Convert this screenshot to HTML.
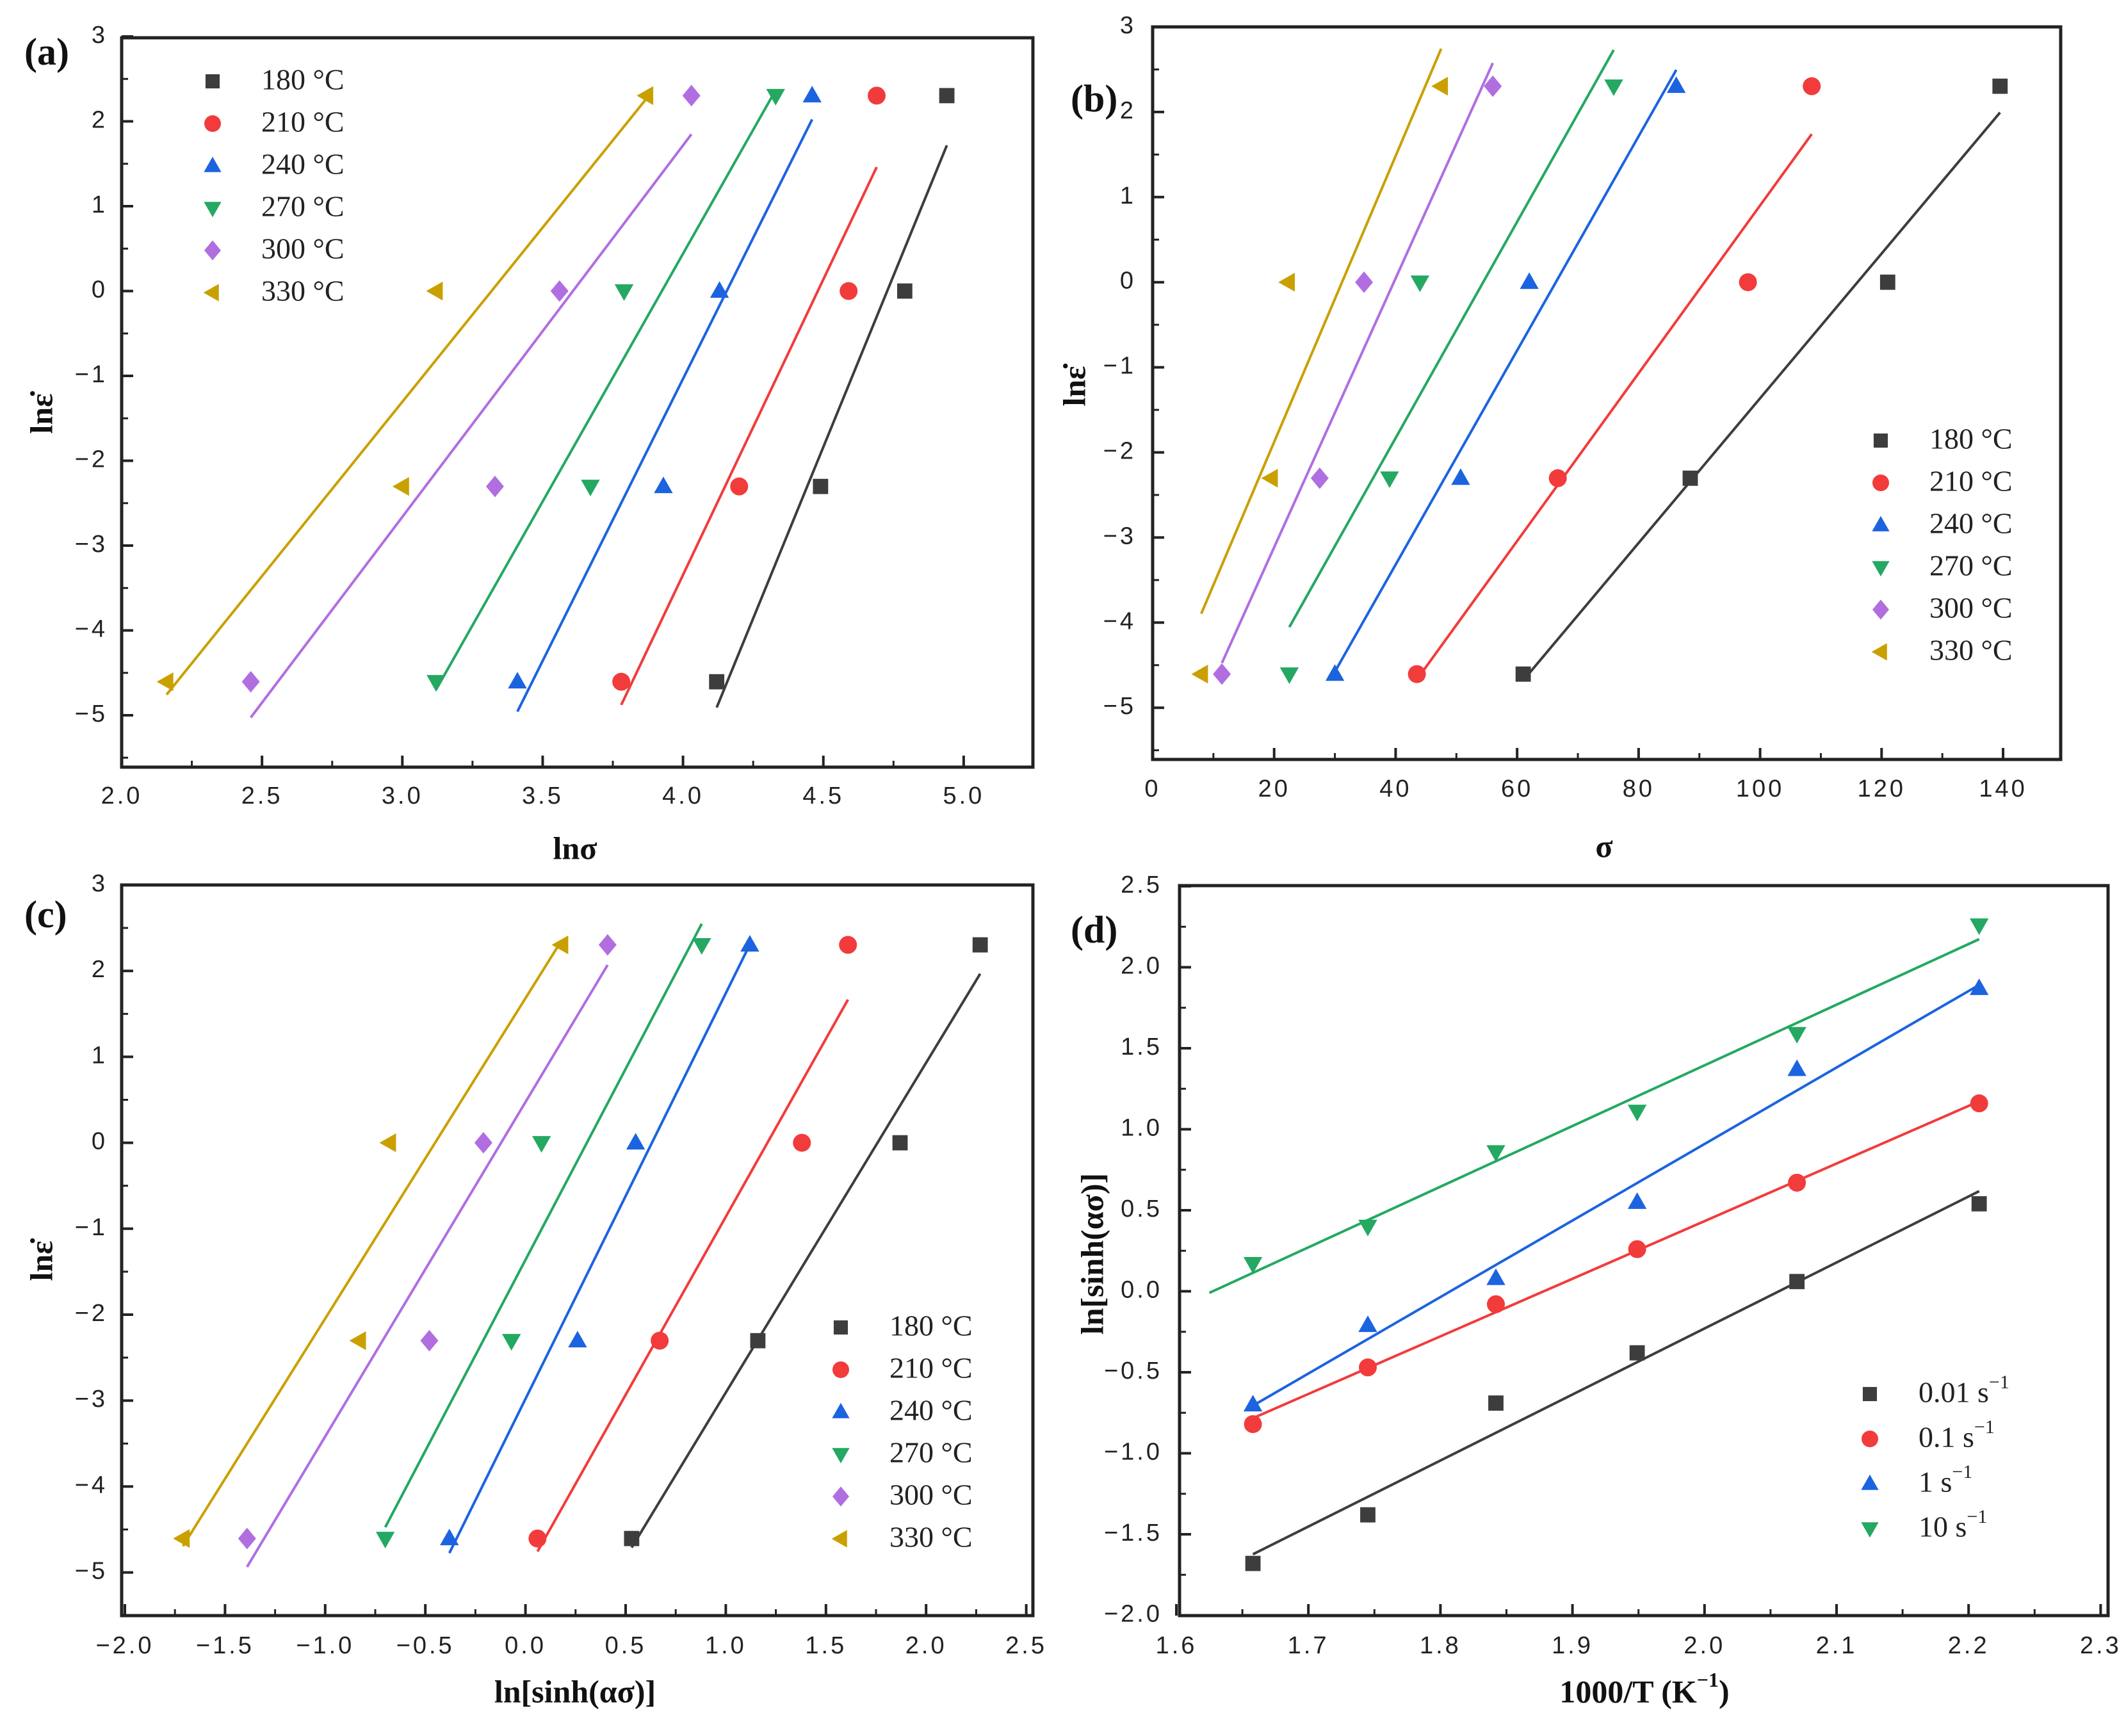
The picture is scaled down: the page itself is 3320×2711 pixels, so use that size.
<!DOCTYPE html>
<html><head><meta charset="utf-8"><style>
html,body{margin:0;padding:0;background:#fff;}
svg{display:block;}
.tk{font-family:"Liberation Sans",sans-serif;font-size:38px;fill:#222;letter-spacing:4px;}
.lg{font-family:"Liberation Serif",serif;font-size:46px;fill:#222;}
.ax{font-family:"Liberation Serif",serif;font-size:50px;font-weight:bold;fill:#111;}
.pl{font-family:"Liberation Serif",serif;font-size:60px;font-weight:bold;fill:#111;}
</style></head><body>
<svg id="fig" width="3320" height="2711" viewBox="0 0 3320 2711" xmlns="http://www.w3.org/2000/svg"></svg>
<script>
// ---------- data ----------
const strainY = [-4.605, -2.303, 0, 2.303];
const tempLabels = ["180 °C","210 °C","240 °C","270 °C","300 °C","330 °C"];
const lnSigma = [
 [4.12,4.49,4.79,4.94],
 [3.78,4.20,4.59,4.69],
 [3.41,3.93,4.13,4.46],
 [3.12,3.67,3.79,4.33],
 [2.46,3.33,3.56,4.03],
 [2.16,3.00,3.12,3.87]];
const sigma = [
 [61,88.5,121,139.5],
 [43.5,66.7,98,108.5],
 [30,50.7,62,86.2],
 [22.5,39,44,75.9],
 [11.4,27.5,34.8,56],
 [8,19.5,22.3,47.5]];
const lnSinh = [
 [0.53,1.16,1.87,2.27],
 [0.06,0.67,1.38,1.61],
 [-0.38,0.26,0.55,1.12],
 [-0.70,-0.07,0.08,0.88],
 [-1.39,-0.48,-0.21,0.41],
 [-1.71,-0.83,-0.68,0.18]];
const invT = [1.658,1.745,1.842,1.949,2.070,2.208];
const rateLabels = ["0.01 s","0.1 s","1 s","10 s"];
const lnSinhD = [
 [-1.68,-1.38,-0.69,-0.38,0.06,0.54],
 [-0.82,-0.47,-0.08,0.26,0.67,1.16],
 [-0.70,-0.21,0.08,0.55,1.37,1.87],
 [0.17,0.40,0.86,1.11,1.59,2.26]];
const fitStartD = [null,null,null,1.625];
const ticksA_x = ["2.0","2.5","3.0","3.5","4.0","4.5","5.0"];
const ticksStrain = ["3","2","1","0","−1","−2","−3","−4","−5"];
const ticksB_x = ["0","20","40","60","80","100","120","140"];
const ticksC_x = ["−2.0","−1.5","−1.0","−0.5","0.0","0.5","1.0","1.5","2.0","2.5"];
const ticksD_x = ["1.6","1.7","1.8","1.9","2.0","2.1","2.2","2.3"];
const ticksD_y = ["2.5","2.0","1.5","1.0","0.5","0.0","−0.5","−1.0","−1.5","−2.0"];

const colors = ["#3d3d3d","#f23b3b","#1c63e0","#24a862","#b06ee0","#c9a000"];
const colorsD = ["#3d3d3d","#f23b3b","#1c63e0","#24a862"];
const shapes = ["sq","ci","tu","td","di","tl"];
const svg = document.getElementById('fig');
const NS = "http://www.w3.org/2000/svg";
function mk(tag, at, parent){const e=document.createElementNS(NS,tag);for(const k in at)e.setAttribute(k,at[k]);(parent||svg).appendChild(e);return e;}
function num(s){return parseFloat(s.replace('−','-'));}

function marker(g, shape, x, y, c, r){
  let e;
  if(shape==="sq") e=mk('rect',{x:x-r*0.85,y:y-r*0.85,width:r*1.7,height:r*1.7,fill:c},g);
  else if(shape==="ci") e=mk('circle',{cx:x,cy:y,r:r,fill:c},g);
  else {
    let p;
    if(shape==="tu") p=[[x,y-r*1.1],[x+r*1.05,y+r*0.75],[x-r*1.05,y+r*0.75]];
    if(shape==="td") p=[[x,y+r*1.1],[x+r*1.05,y-r*0.75],[x-r*1.05,y-r*0.75]];
    if(shape==="tl") p=[[x-r*1.1,y],[x+r*0.75,y-r*1.05],[x+r*0.75,y+r*1.05]];
    if(shape==="di") p=[[x,y-r*1.2],[x+r*1.0,y],[x,y+r*1.2],[x-r*1.0,y]];
    e=mk('polygon',{points:p.map(q=>q.join(',')).join(' '),fill:c},g);
  }
  return e;
}
function fit(xs, ys){
  const n=xs.length;let mx=0,my=0;for(let i=0;i<n;i++){mx+=xs[i];my+=ys[i];}mx/=n;my/=n;
  let sxy=0,sxx=0;for(let i=0;i<n;i++){sxy+=(xs[i]-mx)*(ys[i]-my);sxx+=(xs[i]-mx)**2;}
  const b=sxy/sxx;return [b,my-b*mx];
}

function panel(o){
  const g=mk('g',{});
  
  
  const X=v=>o.x0px+(v-o.x0)*o.xu, Y=v=>o.y0px-(v-o.y0)*o.yu;
  const fr=mk('rect',{x:o.L,y:o.T,width:o.R-o.L,height:o.B-o.T,fill:'none',stroke:'#222','stroke-width':5},g);
  
  
  o.xt.forEach((t,i)=>{
    const v=num(t),px=X(v);
    mk('line',{x1:px,y1:o.B,x2:px,y2:o.B-18,stroke:'#222','stroke-width':4},g);
    const tx=mk('text',{x:px,y:o.xlabY,'text-anchor':'middle','dominant-baseline':'middle',class:'tk'},g);
    tx.textContent=t;
    
    
  });
  for(let v=num(o.xt[0]);v<=o.xmax+1e-9;v+=o.xminor){const px=X(v);if(px>o.L+2&&px<o.R-2)mk('line',{x1:px,y1:o.B,x2:px,y2:o.B-10,stroke:'#222','stroke-width':3},g);}
  o.yt.forEach(t=>{
    const v=num(t),py=Y(v);
    mk('line',{x1:o.L,y1:py,x2:o.L+18,y2:py,stroke:'#222','stroke-width':4},g);
    const tx=mk('text',{x:o.ylabX,y:py,'text-anchor':'end','dominant-baseline':'middle',class:'tk'},g);
    tx.textContent=t;
    
    
  });
  for(let v=o.ymin;v<=o.ymax+1e-9;v+=o.yminor){const py=Y(v);if(py>o.T+2&&py<o.B-2)mk('line',{x1:o.L,y1:py,x2:o.L+10,y2:py,stroke:'#222','stroke-width':3},g);}
  o.xs.forEach((xs,si)=>{
    const ys=o.ysOf(si);
    const [b,a]=fit(xs,ys);
    const x1=(o.starts&&o.starts[si]!=null)?o.starts[si]:Math.min(...xs), x2=Math.max(...xs);
    const ln=mk('line',{x1:X(x1),y1:Y(a+b*x1),x2:X(x2),y2:Y(a+b*x2),stroke:o.cols[si],'stroke-width':4},g);
    
    
    xs.forEach((xv,i)=>{
      const m=marker(g,o.shp[si],X(xv),Y(ys[i]),o.cols[si],14);
      
      
    });
  });
  const lg=mk('g',{},g);
  
  
  o.leg.forEach((t,i)=>{
    const y=o.legY+i*o.legDy;
    marker(lg,o.shp[i],o.legX,y,o.cols[i],13);
    const tx=mk('text',{x:o.legX+76,y:y+2,'dominant-baseline':'middle',class:'lg'},lg);
    
    
    if(o.sup){tx.textContent=t;const s=mk('tspan',{dy:-18,'font-size':30},tx);s.textContent='−1';}
    else tx.textContent=t;
  });
  const xt=mk('text',{x:o.xtitle[0],y:o.xtitle[1],'text-anchor':'middle','dominant-baseline':'middle',class:'ax'},g);
  
  
  if(o.xsup){xt.textContent='1000/T (K';const s=mk('tspan',{dy:-20,'font-size':32},xt);s.textContent='−1';const s2=mk('tspan',{dy:20},xt);s2.textContent=')';}
  else xt.textContent=o.xtitleText;
  const yt=mk('text',{x:0,y:0,'text-anchor':'middle','dominant-baseline':'middle',class:'ax',transform:`translate(${o.ytitle[0]},${o.ytitle[1]}) rotate(-90)`},g);
  
  
  yt.textContent=o.ytitleText;
  const pl=mk('text',{x:o.plab[0],y:o.plab[1],'dominant-baseline':'middle',class:'pl'},g);
  
  
  pl.textContent=o.plabText;
}
const strainOf=()=>strainY;
panel({name:'panel-a',L:190,R:1613,T:59,B:1198,x0:2,x0px:190,xu:438.3,y0:3,y0px:57,yu:132.5,
  xt:ticksA_x,xmax:5.25,xminor:0.25,yt:ticksStrain,ymin:-5.5,ymax:3,yminor:0.5,xlabY:1245,ylabX:168,
  xs:lnSigma,ysOf:strainOf,cols:colors,shp:shapes,leg:tempLabels,legX:332,legY:127,legDy:66,
  xtitle:[898,1330],xtitleText:'lnσ',ytitle:[70,646],ytitleText:'lnε̇',plab:[38,87],plabText:'(a)'});
panel({name:'panel-b',L:1800,R:3218,T:42,B:1186,x0:0,x0px:1800,xu:9.486,y0:3,y0px:42,yu:132.9,
  xt:ticksB_x,xmax:149,xminor:10,yt:ticksStrain,ymin:-5.5,ymax:3,yminor:0.5,xlabY:1234,ylabX:1774,
  xs:sigma,ysOf:strainOf,cols:colors,shp:shapes,leg:tempLabels,legX:2937,legY:688,legDy:66,
  xtitle:[2505,1327],xtitleText:'σ',ytitle:[1683,603],ytitleText:'lnε̇',plab:[1672,160],plabText:'(b)'});
panel({name:'panel-c',L:190,R:1613,T:1382,B:2523,x0:-2,x0px:195,xu:312.8,y0:3,y0px:1382,yu:134.2,
  xt:ticksC_x,xmax:2.55,xminor:0.25,yt:ticksStrain,ymin:-5.5,ymax:3,yminor:0.5,xlabY:2572,ylabX:168,
  xs:lnSinh,ysOf:strainOf,cols:colors,shp:shapes,leg:tempLabels,legX:1313,legY:2073,legDy:66,
  xtitle:[898,2647],xtitleText:'ln[sinh(ασ)]',ytitle:[70,1969],ytitleText:'lnε̇',plab:[38,1434],plabText:'(c)'});
panel({name:'panel-d',L:1842,R:3292,T:1383,B:2523,x0:1.6,x0px:1837,xu:2062,y0:2.5,y0px:1384,yu:253,
  xt:ticksD_x,xmax:2.3,xminor:0.05,yt:ticksD_y,ymin:-2,ymax:2.5,yminor:0.25,xlabY:2572,ylabX:1815,
  xs:lnSinhD.map(()=>invT),ysOf:i=>lnSinhD[i],starts:fitStartD,cols:colorsD,shp:shapes,leg:rateLabels,sup:true,legX:2920,legY:2177,legDy:70,
  xtitle:[2568,2647],xsup:true,ytitle:[1711,1958],ytitleText:'ln[sinh(ασ)]',plab:[1672,1458],plabText:'(d)'});
</script>
</body></html>
